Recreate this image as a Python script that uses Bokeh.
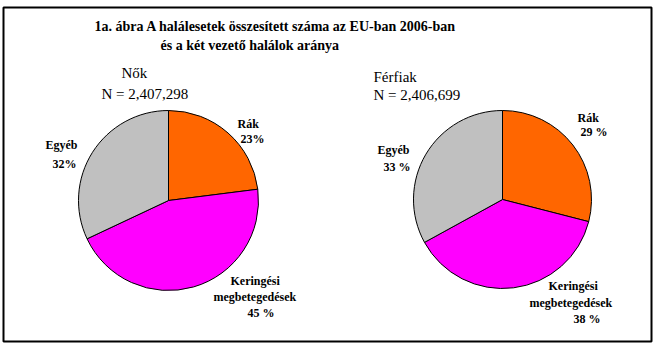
import numpy as np
from bokeh.plotting import figure
from bokeh.models import Range1d, ColumnDataSource
from bokeh.core.properties import value
from bokeh.embed import file_html
from bokeh.resources import INLINE

W, H = 657, 353

# ---- data ----
categories = ["Rák", "Keringési megbetegedések", "Egyéb"]
women_pct = [23, 45, 32]
men_pct = [29, 38, 33]
colors = ["#FF6600", "#FF00FF", "#C0C0C0"]
title_lines = ["1a. ábra A halálesetek összesített száma az EU-ban 2006-ban",
               "és a két vezető halálok aránya"]
women_title = ["Nők", "N = 2,407,298"]
men_title = ["Férfiak", "N = 2,406,699"]

def Y(y):
    return H - y

p = figure(width=W, height=H, output_backend="svg", toolbar_location=None,
           x_range=Range1d(0, W), y_range=Range1d(0, H), min_border=0)
p.axis.visible = False
p.grid.visible = False
p.outline_line_color = None

def pie(cx, cy, r, pct):
    frac = np.array(pct, dtype=float) / sum(pct)
    cum = np.concatenate([[0], np.cumsum(frac)])
    start = np.pi / 2 - 2 * np.pi * cum[:-1]
    end = np.pi / 2 - 2 * np.pi * cum[1:]
    p.wedge(x=[cx] * len(pct), y=[Y(cy)] * len(pct), radius=r,
            start_angle=list(start), end_angle=list(end), direction="clock",
            fill_color=colors, line_color="black", line_width=1)

# frame
p.quad(left=[3], right=[651], bottom=[Y(341)], top=[Y(7)], fill_color=None,
       line_color="black", line_width=2)

pie(168, 200, 90, women_pct)
pie(502, 199, 89, men_pct)

# all texts in a single text glyph (x, y = left edge, vertical middle)
rows = [
    (94, 26, title_lines[0], "14px", "bold"),
    (160, 45, title_lines[1], "14px", "bold"),
    (121, 72, women_title[0], "15px", "normal"),
    (101, 93, women_title[1], "15px", "normal"),
    (373, 76, men_title[0], "15px", "normal"),
    (373, 94, men_title[1], "15px", "normal"),
    (237, 123, "Rák", "12px", "bold"),
    (240, 138, f"{women_pct[0]}%", "12px", "bold"),
    (45, 144, "Egyéb", "12px", "bold"),
    (52, 163, f"{women_pct[2]}%", "12px", "bold"),
    (230, 280, "Keringési", "12px", "bold"),
    (213, 296, "megbetegedések", "12px", "bold"),
    (247, 312, f"{women_pct[1]} %", "12px", "bold"),
    (577, 117, "Rák", "12px", "bold"),
    (580, 131, f"{men_pct[0]} %", "12px", "bold"),
    (377, 149, "Egyéb", "12px", "bold"),
    (383, 166, f"{men_pct[2]} %", "12px", "bold"),
    (548, 285, "Keringési", "12px", "bold"),
    (529, 302, "megbetegedések", "12px", "bold"),
    (573, 318, f"{men_pct[1]} %", "12px", "bold"),
]
src = ColumnDataSource(dict(
    x=[r[0] for r in rows],
    y=[Y(r[1]) for r in rows],
    text=[r[2] for r in rows],
    size=[r[3] for r in rows],
    style=[r[4] for r in rows],
))
p.text(x="x", y="y", text="text", source=src, text_font=value("Liberation Serif"),
       text_font_size="size", text_font_style="style",
       text_baseline="middle", text_color="black")

open("out.html", "w").write(file_html(p, INLINE))
